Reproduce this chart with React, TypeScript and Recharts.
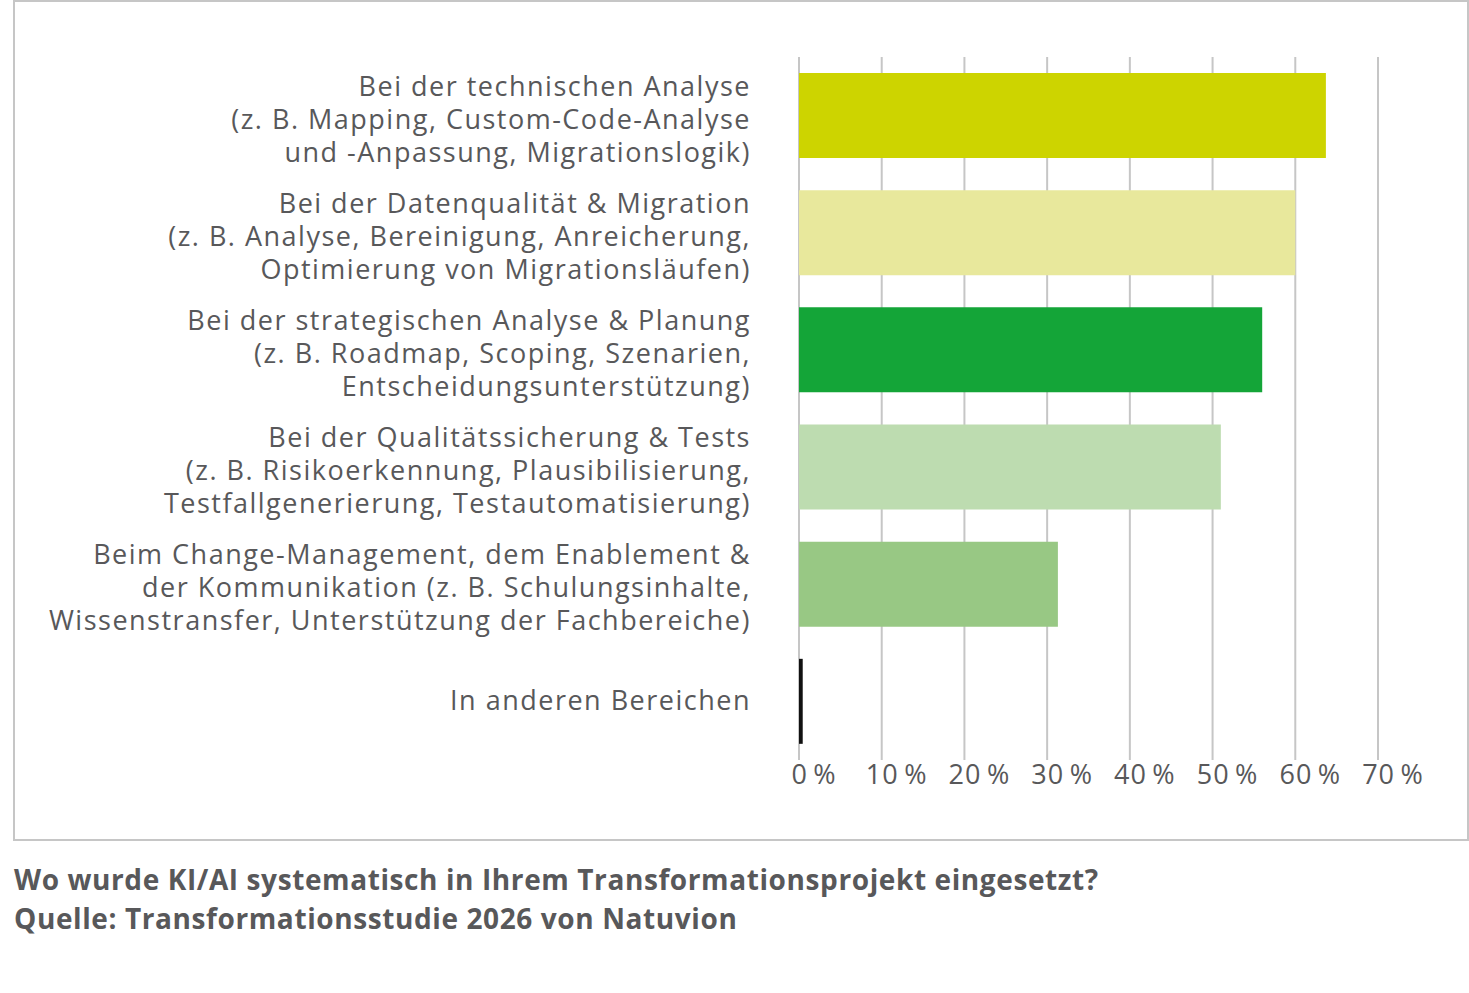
import { BarChart, Bar, XAxis, YAxis, CartesianGrid, Cell } from 'recharts';

// Category labels, each split into the lines shown in the chart
const categories: string[][] = [
  ['Bei der technischen Analyse', '(z. B. Mapping, Custom-Code-Analyse', 'und -Anpassung, Migrationslogik)'],
  ['Bei der Datenqualität & Migration', '(z. B. Analyse, Bereinigung, Anreicherung,', 'Optimierung von Migrationsläufen)'],
  ['Bei der strategischen Analyse & Planung', '(z. B. Roadmap, Scoping, Szenarien,', 'Entscheidungsunterstützung)'],
  ['Bei der Qualitätssicherung & Tests', '(z. B. Risikoerkennung, Plausibilisierung,', 'Testfallgenerierung, Testautomatisierung)'],
  ['Beim Change-Management, dem Enablement &', 'der Kommunikation (z. B. Schulungsinhalte,', 'Wissenstransfer, Unterstützung der Fachbereiche)'],
  ['In anderen Bereichen'],
];

const values = [63.7, 60, 56, 51, 31.3, 0.45];

const barColors = ['#cdd400', '#e8e89c', '#14a538', '#bddcb0', '#98c884', '#111111'];

const xTicks = [0, 10, 20, 30, 40, 50, 60, 70];

const data = categories.map((lines, i) => ({ key: `c${i}`, lines, value: values[i] }));

const TEXT = '#58585a';

function CategoryTick({ x, y, payload }: any) {
  const lines: string[] = categories[payload.index] ?? [];
  const lineH = 33;
  // multi-line labels sit a little below the bar centre, single lines on it
  const shift = lines.length > 1 ? 6 : 2;
  const start = y + shift - ((lines.length - 1) * lineH) / 2;
  return (
    <text
      x={x - 40}
      y={start}
      textAnchor="end"
      fill={TEXT}
      fontSize={27}
      letterSpacing={1.5}
      fontFamily="'Open Sans', sans-serif"
      dominantBaseline="middle"
    >
      {lines.map((l, i) => (
        <tspan key={i} x={x - 40} y={start + i * lineH}>{l}</tspan>
      ))}
    </text>
  );
}

function PercentTick({ x, y, payload }: any) {
  return (
    <text
      x={x + 15}
      y={y + 16}
      textAnchor="middle"
      fill={TEXT}
      fontSize={27}
      letterSpacing={1}
      fontFamily="'Open Sans', sans-serif"
    >
      {`${payload.value}\u2009%`}
    </text>
  );
}

export default function App() {
  return (
    <div style={{ position: 'absolute', left: 0, top: 0, width: 1469, height: 993, background: '#fff' }}>
      <div
        style={{
          position: 'absolute', left: 13, top: 0, width: 1456, height: 841,
          border: '2px solid #c6c6c6', boxSizing: 'border-box',
        }}
      />
      <div style={{ position: 'absolute', left: 0, top: 0 }}>
        <BarChart
          width={1469}
          height={840}
          data={data}
          layout="vertical"
          margin={{ top: 57, right: 91, bottom: 0, left: 0 }}
          barCategoryGap={32}
        >
          <CartesianGrid horizontal={false} stroke="#c6c6c6" strokeWidth={2} />
          <XAxis
            type="number"
            domain={[0, 70]}
            ticks={xTicks}
            axisLine={false}
            tickLine={false}
            height={80}
            tick={<PercentTick />}
            interval={0}
          />
          <YAxis
            type="category"
            dataKey="key"
            width={799}
            axisLine={false}
            tickLine={false}
            tick={<CategoryTick />}
            interval={0}
          />
          <Bar dataKey="value" barSize={85} isAnimationActive={false}>
            {data.map((d, i) => (
              <Cell key={d.key} fill={barColors[i]} />
            ))}
          </Bar>
        </BarChart>
      </div>
      <div
        style={{
          position: 'absolute', left: 14, top: 860, color: TEXT,
          fontFamily: "'Open Sans', sans-serif", fontWeight: 700, fontSize: 28,
          letterSpacing: 0.6, lineHeight: '38.7px',
        }}
      >
        <div>Wo wurde KI/AI systematisch in Ihrem Transformationsprojekt eingesetzt?</div>
        <div>Quelle: Transformationsstudie 2026 von Natuvion</div>
      </div>
    </div>
  );
}
